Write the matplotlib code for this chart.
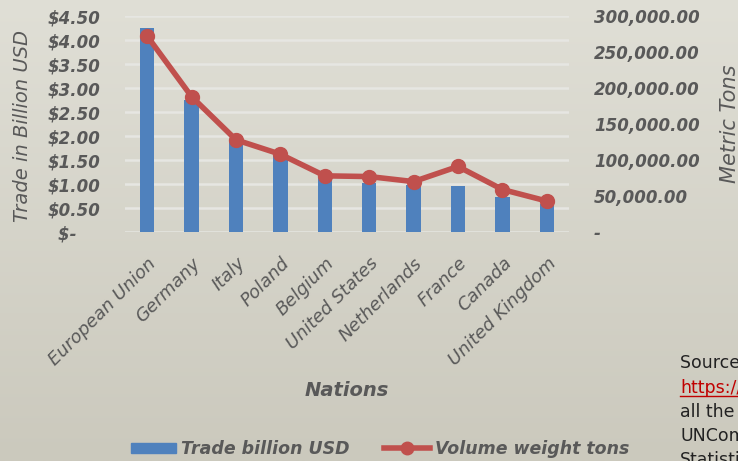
import matplotlib
matplotlib.use("Agg")
import matplotlib.pyplot as plt
import numpy as np
from matplotlib.lines import Line2D
from matplotlib.ticker import FuncFormatter

nations = ["European Union", "Germany", "Italy", "Poland", "Belgium",
           "United States", "Netherlands", "France", "Canada", "United Kingdom"]
trade_busd = [4.26, 2.75, 1.92, 1.63, 1.15, 1.02, 0.97, 0.95, 0.72, 0.58]
volume_tons = [272000, 188000, 128000, 108000, 78000, 77000, 70000, 91000, 59000, 43000]

TXT = "#595959"
BLUE = "#4f81bd"
RED = "#c0504d"
GRID = "#e6e6e2"

plt.rcParams.update({
    "font.family": "DejaVu Sans",
    "font.style": "italic",
    "text.color": TXT,
    "axes.labelcolor": TXT,
    "xtick.color": TXT,
    "ytick.color": TXT,
})

fig = plt.figure(figsize=(7.38, 4.61), dpi=100)

# background gradient
bg = fig.add_axes([0, 0, 1, 1], zorder=-10)
grad = np.linspace(0, 1, 256).reshape(-1, 1)
bg.imshow(grad, aspect="auto", extent=[0, 1, 0, 1],
          cmap=matplotlib.colors.LinearSegmentedColormap.from_list(
              "bg", ["#e0dfd6", "#cbc9bd"]))
bg.axis("off")

ax = fig.add_axes([125 / 738, 1 - 232 / 461, 444 / 738, 216 / 461])
ax.patch.set_alpha(0)
x = np.arange(len(nations))
ax.bar(x, trade_busd, width=0.32, color=BLUE, zorder=2)
ax.set_ylim(0, 4.5)
ax.set_yticks(np.arange(0, 4.51, 0.5))
ax.yaxis.set_major_formatter(FuncFormatter(
    lambda v, p: "$-    " if v == 0 else f"${v:.2f}"))
ax.set_xlim(-0.5, len(nations) - 0.5)
ax.set_xticks(x)
ax.set_xticklabels(nations, rotation=45, ha="right", rotation_mode="anchor",
                   fontsize=13)
ax.tick_params(axis="x", length=0, pad=16)
ax.tick_params(axis="y", length=0, pad=18)
for lbl in ax.get_yticklabels():
    lbl.set_fontsize(12)
    lbl.set_fontweight("bold")
ax.grid(axis="y", color=GRID, linewidth=1.8, zorder=0)
for s in ax.spines.values():
    s.set_visible(False)
ax.set_ylabel("Trade in Billion USD", fontsize=14)
ax.yaxis.set_label_coords(-0.21, 0.49)
ax.set_xlabel("Nations", fontsize=14, fontweight="bold")
ax.xaxis.set_label_coords(0.5, -0.69)

ax2 = ax.twinx()
ax2.plot(x, volume_tons, color=RED, linewidth=4, marker="o", markersize=10,
         zorder=3)
ax2.set_ylim(0, 300000)
ax2.set_yticks(np.arange(0, 300001, 50000))
ax2.yaxis.set_major_formatter(FuncFormatter(
    lambda v, p: "-" if v == 0 else f"{v:,.2f}"))
ax2.tick_params(axis="y", length=0, pad=18)
for lbl in ax2.get_yticklabels():
    lbl.set_fontsize(12)
    lbl.set_fontweight("bold")
for s in ax2.spines.values():
    s.set_visible(False)
ax2.set_ylabel("Metric Tons", fontsize=15, rotation=90)
ax2.yaxis.set_label_coords(1.34, 0.5)

handles = [matplotlib.patches.Patch(color=BLUE),
           Line2D([], [], color=RED, linewidth=4, marker="o", markersize=9)]
fig.legend(handles, ["Trade billion USD", "Volume weight tons"], loc="center",
           bbox_to_anchor=(380 / 738, 1 - 449 / 461), ncol=2, frameon=False,
           prop={"size": 12.5, "weight": "bold", "style": "italic"},
           handlelength=2.6, handleheight=0.5, columnspacing=2.0,
           handletextpad=0.3)

# source note (cut off at right edge)
src = dict(fontsize=12.5, fontstyle="normal", fontweight="normal",
           family="DejaVu Sans", va="baseline")
fig.text(680 / 738, 1 - 368 / 461, "Source: UN Comtrade", color="#222222", **src)
fig.text(680 / 738, 1 - 393 / 461, "https://comtrade.un.org", color="#c00000", **src)
fig.add_artist(Line2D([680 / 738, 1], [1 - 396 / 461] * 2, color="#c00000",
                      linewidth=1))
fig.text(680 / 738, 1 - 417 / 461, "all the data from", color="#222222", **src)
fig.text(680 / 738, 1 - 441 / 461, "UNComtrade", color="#222222", **src)
fig.text(680 / 738, 1 - 465 / 461, "Statistics", color="#222222", **src)

fig.savefig("out.png", dpi=100)
